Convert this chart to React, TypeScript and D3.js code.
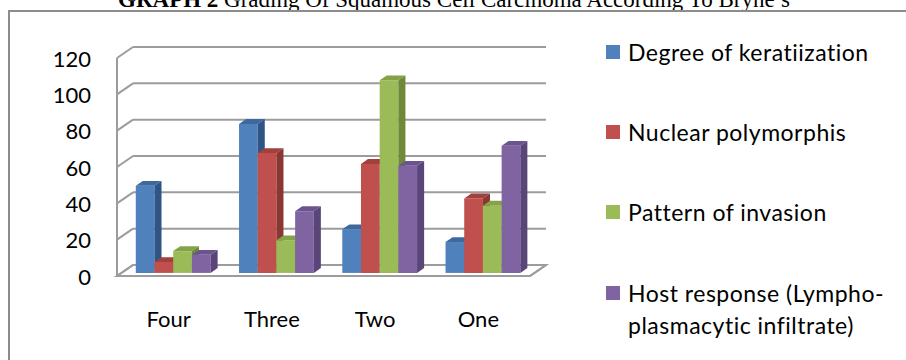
import React from "react";
import * as d3 from "d3";

const categories = ["Four", "Three", "Two", "One"];
const seriesNames = [
  "Degree of keratiization",
  "Nuclear polymorphis",
  "Pattern of invasion",
  "Host response (Lympho-plasmacytic infiltrate)",
];
const keratinization = [48, 82, 24, 17];
const nuclearPolymorphism = [6, 66, 60, 41];
const patternOfInvasion = [12, 18, 106, 37];
const hostResponse = [10, 34, 59, 70];
const yTicks = [0, 20, 40, 60, 80, 100, 120];

const seriesValues = [keratinization, nuclearPolymorphism, patternOfInvasion, hostResponse];
const frontColors = ["#4F81BD", "#C0504D", "#9BBB59", "#8064A2"];
const sideColors = ["#2F5486", "#8A3633", "#6E8A38", "#594578"];
const topColors = ["#3E699E", "#A33F3C", "#84A348", "#6A5490"];

const W = 906;
const H = 360;
const DX = 16;
const DY = -11;
const D0 = 0.28;
const D1 = 0.72;

export default function App() {
  const x0 = d3.scaleBand<string>().domain(categories).range([117, 530]).padding(0);
  const inner = d3
    .scaleBand<number>()
    .domain([0, 1, 2, 3])
    .range([14.3, 14.3 + 74.8])
    .padding(0);
  const y = d3.scaleLinear().domain([0, 120]).range([276, 58]);

  const proj = (x: number, yy: number, d: number): [number, number] => [x + DX * d, yy + DY * d];
  const pts = (arr: [number, number][]) => arr.map((p) => p.join(",")).join(" ");

  const xL = 117;
  const xR = 530;
  const grid = "#9C9C9C";

  const bars: React.ReactNode[] = [];
  categories.forEach((c, ci) => {
    seriesValues.forEach((vals, si) => {
      const v = vals[ci];
      const xa = (x0(c) as number) + (inner(si) as number);
      const xb = xa + inner.bandwidth();
      const yb = y(0);
      const yt = y(v);
      const fA = proj(xa, yt, D0);
      const fB = proj(xb, yt, D0);
      const fC = proj(xb, yb, D0);
      const fD = proj(xa, yb, D0);
      const tA = proj(xa, yt, D1);
      const tB = proj(xb, yt, D1);
      const sC = proj(xb, yb, D1);
      bars.push(
        <g key={`${ci}-${si}`}>
          <polygon points={pts([fA, fB, fC, fD])} fill={frontColors[si]} />
          <polygon points={pts([fA, tA, tB, fB])} fill={topColors[si]} />
          <polygon points={pts([fB, tB, sC, fC])} fill={sideColors[si]} />
        </g>
      );
    });
  });

  const legendY = [52, 132, 212, 293];
  const legendLines = [
    ["Degree of keratiization"],
    ["Nuclear polymorphis"],
    ["Pattern of invasion"],
    ["Host response (Lympho-", "plasmacytic infiltrate)"],
  ];

  return (
    <svg
      width={W}
      height={H}
      style={{ position: "absolute", left: 0, top: 0, background: "#fff", fontVariantLigatures: "none" }}
      fontFamily="Lato, 'Open Sans', sans-serif"
    >
      <rect x={0} y={0} width={W} height={H} fill="#fff" />
      <text x={454} y={7} textAnchor="middle" fontFamily="'Liberation Serif', 'Times New Roman', serif" fontSize={23} fill="#000">
        <tspan fontWeight="bold">GRAPH 2 </tspan>
        <tspan>Grading Of Squamous Cell Carcinoma According To Bryne’s</tspan>
      </text>
      <path d={`M9,${H + 5} V11 H${W + 5}`} fill="none" stroke="#8C8C8C" strokeWidth={2} />

      {/* floor */}
      <polygon
        points={pts([proj(xL, y(0), 0), proj(xR, y(0), 0), proj(xR, y(0), 1), proj(xL, y(0), 1)])}
        fill="#fff"
        stroke={grid}
        strokeWidth={2}
      />
      {/* gridlines: back wall + side wall */}
      {yTicks.map((t) => (
        <g key={t}>
          <line x1={proj(xL, y(t), 1)[0]} y1={proj(xL, y(t), 1)[1]} x2={proj(xR, y(t), 1)[0]} y2={proj(xR, y(t), 1)[1]} stroke={grid} strokeWidth={2} />
          <line x1={xL} y1={y(t)} x2={proj(xL, y(t), 1)[0]} y2={proj(xL, y(t), 1)[1]} stroke={grid} strokeWidth={2} />
        </g>
      ))}
      <line x1={xL} y1={y(120)} x2={xL} y2={y(0)} stroke={grid} strokeWidth={2} />
      <line x1={xL} y1={y(0)} x2={xR} y2={y(0)} stroke={grid} strokeWidth={2} />
      <line x1={xR} y1={y(0)} x2={proj(xR, y(0), 1)[0]} y2={proj(xR, y(0), 1)[1]} stroke={grid} strokeWidth={2} />

      {bars}

      {yTicks.map((t) => (
        <text key={t} x={91} y={y(t)} textAnchor="end" dominantBaseline="central" fontSize={22} fill="#000">
          {t}
        </text>
      ))}
      {categories.map((c) => (
        <text key={c} x={(x0(c) as number) + x0.bandwidth() / 2} y={327} textAnchor="middle" fontSize={22} fill="#000">
          {c}
        </text>
      ))}

      {legendLines.map((lines, i) => (
        <g key={i}>
          <rect x={606} y={legendY[i] - 7} width={14} height={14} fill={frontColors[i]} />
          {lines.map((ln, k) => (
            <text key={k} x={628} y={legendY[i] + k * 32} dominantBaseline="central" fontSize={23} letterSpacing={0.5} fill="#000">
              {ln}
            </text>
          ))}
        </g>
      ))}
    </svg>
  );
}
